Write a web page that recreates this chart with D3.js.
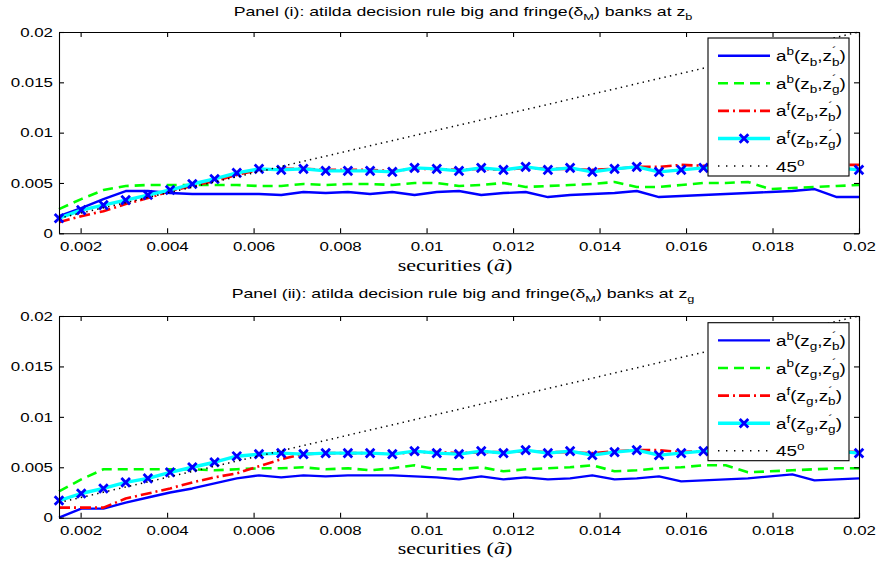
<!DOCTYPE html>
<html><head><meta charset="utf-8">
<script src="https://cdn.jsdelivr.net/npm/d3@7"></script>
<style>body{margin:0;background:#fff}svg{display:block}</style>
</head><body><svg id="c" width="878" height="567"></svg>
<script>
// ---- data ----
const xValues=[0.0015,0.002014,0.002528,0.003042,0.003556,0.004069,0.004583,0.005097,0.005611,0.006125,
0.006639,0.007153,0.007667,0.008181,0.008694,0.009208,0.009722,0.010236,0.01075,0.011264,
0.011778,0.012292,0.012806,0.013319,0.013833,0.014347,0.014861,0.015375,0.015889,0.016403,
0.016917,0.017431,0.017944,0.018458,0.018972,0.019486,0.02];

// Panel (i): z_b
const p1_ab_b=[0.0017,0.0025,0.0034,0.0042,0.0042,0.0040,0.0039,0.0039,0.0039,0.0039,
0.0038,0.0041,0.0040,0.0041,0.0039,0.0041,0.0038,0.0041,0.0042,0.0038,
0.0040,0.0041,0.0036,0.0038,0.0039,0.0040,0.0042,0.0036,0.0037,0.0038,
0.0039,0.0040,0.0041,0.0042,0.0044,0.0036,0.0036];
const p1_ab_g=[0.0024,0.0034,0.0043,0.0047,0.0048,0.0048,0.0048,0.0048,0.0048,0.0047,
0.0047,0.0049,0.0048,0.0049,0.0049,0.0048,0.0050,0.0050,0.0047,0.0048,
0.0050,0.0046,0.0047,0.0048,0.0049,0.0051,0.0046,0.0046,0.0048,0.0050,
0.0050,0.0051,0.0044,0.0045,0.0046,0.0047,0.0048];
const p1_af_b=[0.0011,0.0017,0.0022,0.0029,0.0035,0.0042,0.0047,0.0052,0.0058,0.0063,
0.0064,0.0064,0.0063,0.0063,0.0063,0.0062,0.0064,0.0064,0.0063,0.0064,
0.0063,0.0065,0.0064,0.0064,0.0063,0.0064,0.0066,0.0066,0.0068,0.0067,
0.0067,0.0067,0.0067,0.0067,0.0068,0.0068,0.0068];
const p1_af_g=[0.0015,0.0023,0.0028,0.0033,0.0038,0.0043,0.0049,0.0054,0.0060,0.0064,
0.0063,0.0064,0.0062,0.0062,0.0062,0.0061,0.0065,0.0064,0.0062,0.0065,
0.0063,0.0066,0.0063,0.0065,0.0061,0.0064,0.0066,0.0061,0.0063,0.0065,
0.0064,0.0063,0.0065,0.0064,0.0064,0.0065,0.0063];

// Panel (ii): z_g
const p2_ab_b=[0.0000,0.0009,0.0009,0.0015,0.0020,0.0025,0.0029,0.0034,0.0039,0.0042,
0.0040,0.0042,0.0041,0.0042,0.0042,0.0042,0.0041,0.0040,0.0038,0.0041,
0.0038,0.0040,0.0038,0.0039,0.0042,0.0038,0.0039,0.0041,0.0036,0.0037,
0.0038,0.0039,0.0041,0.0043,0.0037,0.0038,0.0039];
const p2_ab_g=[0.0026,0.0038,0.0048,0.0048,0.0048,0.0048,0.0048,0.0047,0.0048,0.0049,
0.0049,0.0050,0.0048,0.0049,0.0047,0.0049,0.0052,0.0048,0.0048,0.0050,
0.0046,0.0048,0.0049,0.0050,0.0052,0.0046,0.0047,0.0049,0.0050,0.0052,
0.0052,0.0045,0.0046,0.0047,0.0048,0.0049,0.0049];
const p2_af_b=[0.0010,0.0010,0.0010,0.0019,0.0024,0.0029,0.0035,0.0040,0.0044,0.0051,
0.0058,0.0063,0.0064,0.0064,0.0064,0.0063,0.0065,0.0065,0.0064,0.0065,
0.0065,0.0066,0.0065,0.0065,0.0064,0.0066,0.0067,0.0067,0.0065,0.0066,
0.0066,0.0065,0.0066,0.0066,0.0065,0.0066,0.0065];
const p2_af_g=[0.0017,0.0024,0.0029,0.0035,0.0039,0.0045,0.0050,0.0055,0.0061,0.0063,
0.0064,0.0063,0.0064,0.0064,0.0064,0.0063,0.0066,0.0064,0.0063,0.0066,
0.0064,0.0067,0.0064,0.0066,0.0062,0.0065,0.0067,0.0062,0.0064,0.0066,
0.0065,0.0064,0.0066,0.0065,0.0065,0.0066,0.0064];

const line45=[0.0015,0.02];

const xTicks=[0.002,0.004,0.006,0.008,0.01,0.012,0.014,0.016,0.018,0.02];
const xTickLabels=["0.002","0.004","0.006","0.008","0.01","0.012","0.014","0.016","0.018","0.02"];
const yTicks=[0,0.005,0.01,0.015,0.02];
const yTickLabels=["0","0.005","0.01","0.015","0.02"];
const xDomain=[0.0015,0.02];
const yDomain=[0,0.02];

const panelNames=["(i)","(ii)"];
const stateSubs=["b","g"];
const xLabelText="securities";

// ---- drawing ----
const SX=1.3;
const svg=d3.select("#c");
svg.append("rect").attr("width",878).attr("height",567).attr("fill","#fff");
const SANS="'Liberation Sans', Arial, Helvetica, sans-serif";

function rich(t,parts,base){
  let cur=0;
  parts.forEach(p=>{
    const [s,kind,dx]=p;
    let off=0,fs=base;
    if(kind==="sup"){off=-0.42*base;fs=0.72*base;}
    else if(kind==="sub"){off=0.3*base;fs=0.72*base;}
    const ts=t.append("tspan").text(s).attr("font-size",fs).attr("dy",off-cur);
    if(dx) ts.attr("dx",dx);
    cur=off;
  });
}

const x=d3.scaleLinear().domain(xDomain).range([59,859]);

const panels=[
  {top:32,bottom:233.3,legTop:38,titleY:16,tickY:8.5,xlabY:270.5,
   series:[p1_ab_b,p1_ab_g,p1_af_b,p1_af_g]},
  {top:316,bottom:517.7,legTop:322.7,titleY:298,tickY:8,xlabY:554,
   series:[p2_ab_b,p2_ab_g,p2_af_b,p2_af_g]}
];

const styles=[
  {color:"#0000ff",w:2.4,dash:null},
  {color:"#00ff00",w:2.6,dash:"10,6"},
  {color:"#ff0000",w:2.6,dash:"11,4,2,4"},
  {color:"#00ffff",w:3.4,dash:null,marker:true}
];
const MK="M-4.3,-4.3L4.3,4.3M-4.3,4.3L4.3,-4.3";

panels.forEach((P,pi)=>{
  const y=d3.scaleLinear().domain(yDomain).range([P.bottom,P.top]);
  const g=svg.append("g");
  const line=d3.line().x((d,i)=>x(xValues[i])).y(d=>y(d));

  // series
  P.series.forEach((s,si)=>{
    const st=styles[si];
    const p=g.append("path").datum(s).attr("d",line).attr("fill","none")
      .attr("stroke",st.color).attr("stroke-width",st.w).attr("stroke-linejoin","round");
    if(st.dash) p.attr("stroke-dasharray",st.dash);
    if(st.marker){
      g.selectAll(null).data(s).enter().append("path")
        .attr("transform",(d,i)=>`translate(${x(xValues[i])},${y(d)})`)
        .attr("d",MK).attr("stroke","#0000ff").attr("stroke-width",2.8).attr("fill","none");
    }
  });
  // 45 degree
  g.append("path").datum(line45)
    .attr("d",d3.line().x(d=>x(d)).y(d=>y(d)))
    .attr("stroke","#000").attr("stroke-width",1.5).attr("stroke-dasharray","1.4,4.2").attr("fill","none");

  // axes
  const ax=g.append("g").attr("transform",`translate(0,${P.bottom})`)
    .call(d3.axisBottom(x).tickValues(xTicks).tickFormat((d,i)=>xTickLabels[i]).tickSizeInner(-5).tickSizeOuter(0).tickPadding(P.tickY));
  g.append("g").attr("transform",`translate(0,${P.top})`)
    .call(d3.axisTop(x).tickValues(xTicks).tickFormat("").tickSizeInner(-5).tickSizeOuter(0));
  const ay=g.append("g").attr("transform",`translate(59,0)`)
    .call(d3.axisLeft(y).tickValues(yTicks).tickFormat((d,i)=>yTickLabels[i]).tickSizeInner(-5).tickSizeOuter(0).tickPadding(6));
  g.append("g").attr("transform",`translate(859,0)`)
    .call(d3.axisRight(y).tickValues(yTicks).tickFormat("").tickSizeInner(-5).tickSizeOuter(0));
  g.selectAll(".domain,.tick line").attr("stroke","#000").attr("stroke-width",1.1);
  g.selectAll(".tick text").attr("fill","#000").attr("font-family",SANS).attr("font-size",13);
  ax.selectAll(".tick text").attr("transform",`scale(${SX},1)`);
  ay.selectAll(".tick text").attr("x",-6/SX).attr("transform",`scale(${SX},1)`);

  // title
  const tt=svg.append("text").attr("transform",`translate(463,${P.titleY}) scale(${SX},1)`)
    .attr("text-anchor","middle").attr("font-family",SANS).attr("fill","#000");
  rich(tt,[[`Panel ${panelNames[pi]}: atilda decision rule big and fringe(δ`,"n"],["M","sub"],[") banks at z","n"],[stateSubs[pi],"sub"]],13.6);

  // x label
  const xl=svg.append("text").attr("transform",`translate(455,${P.xlabY}) scale(${SX},1)`)
    .attr("text-anchor","middle").attr("font-family","'Liberation Serif','Times New Roman',serif").attr("font-size",17).attr("fill","#000");
  xl.append("tspan").text(xLabelText+" (");
  xl.append("tspan").text("ã").attr("font-style","italic");
  xl.append("tspan").text(")");

  // legend
  const lg=svg.append("g").attr("transform",`translate(708,${P.legTop})`);
  lg.append("rect").attr("width",141).attr("height",138).attr("fill","#fff").attr("stroke","#000").attr("stroke-width",1.1);
  const sb=stateSubs[pi];
  const labels=[
    [["a","n"],["b","sup"],["(z","n"],[sb,"sub"],[",z","n"],["´","sup"],["b","sub",-3.5],[")","n"]],
    [["a","n"],["b","sup"],["(z","n"],[sb,"sub"],[",z","n"],["´","sup"],["g","sub",-3.5],[")","n"]],
    [["a","n"],["f","sup"],["(z","n"],[sb,"sub"],[",z","n"],["´","sup"],["b","sub",-3.5],[")","n"]],
    [["a","n"],["f","sup"],["(z","n"],[sb,"sub"],[",z","n"],["´","sup"],["g","sub",-3.5],[")","n"]],
    [["45","n"],["o","sup"]]
  ];
  labels.forEach((lab,k)=>{
    const cy=17.7+k*27.6;
    const ln=lg.append("line").attr("x1",10).attr("x2",62).attr("y1",cy).attr("y2",cy);
    if(k<4){
      const st=styles[k];
      ln.attr("stroke",st.color).attr("stroke-width",st.w);
      if(st.dash) ln.attr("stroke-dasharray",st.dash);
      if(st.marker) lg.append("path").attr("transform",`translate(36,${cy})`).attr("d",MK)
        .attr("stroke","#0000ff").attr("stroke-width",2.8);
    } else {
      ln.attr("stroke","#000").attr("stroke-width",1.5).attr("stroke-dasharray","1.4,6.6");
    }
    const t=lg.append("text").attr("transform",`translate(68,${cy+5.5}) scale(${SX},1)`)
      .attr("font-family",SANS).attr("fill","#000");
    rich(t,lab,14.5);
  });
});
</script></body></html>
